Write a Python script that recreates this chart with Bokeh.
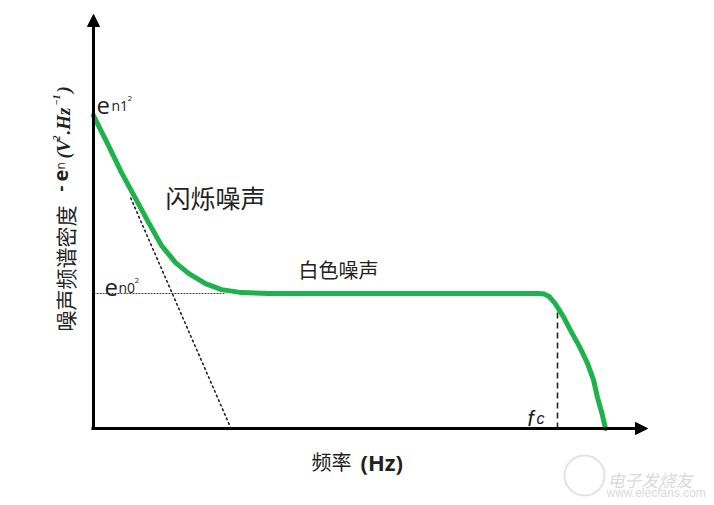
from bokeh.plotting import figure
from bokeh.models import Range1d, Arrow, NormalHead
from bokeh.core.properties import value
from bokeh.embed import file_html
from bokeh.resources import INLINE
import math

# ---- data (arbitrary diagram units: frequency / density) ----
curve_f = [0, 3.0, 5.6, 8.4, 11.0, 13.6, 16.4, 19.0, 22.4, 25.6, 29.6, 35,
           60, 89.0, 90.2, 91.2, 92.4, 94.0, 95.4, 97.2, 98.8, 100.0, 100.8, 101.7, 102.4]
curve_d = [104.3, 94.3, 85.3, 76.7, 68.7, 61.0, 55.3, 51.7, 48.3, 46.3, 45.3, 45,
           45, 45, 44.8, 43.9, 41.5, 37.2, 32.7, 27.3, 21.7, 16.2, 10.3, 5.0, 0]
tangent_f = [7.4, 27.5]
tangent_d = [77.0, 0.0]
white_level = 45.0
white_end_f = 26.4
fc_f = 92.8
fc_d = 40.3
axis_x_end = 110.8
axis_y_end = 138.0

W, H = 710, 500
X0, Y0 = 93, 428  # page pixel of the origin


def fx(px):
    return (px - X0) / 5


def fy(py):
    return (Y0 - py) / 3


p = figure(width=W, height=H, output_backend="svg", toolbar_location=None,
           x_range=Range1d(fx(0), fx(W)), y_range=Range1d(fy(H), fy(0)),
           min_border=0)
p.axis.visible = False
p.grid.visible = False
p.outline_line_color = None
p.background_fill_color = "white"

# axes with arrows
p.add_layout(Arrow(end=NormalHead(size=12, fill_color="black", line_color="black", line_width=1),
                   x_start=-0.4, y_start=0, x_end=axis_x_end, y_end=0,
                   line_width=3, line_color="black"))
p.add_layout(Arrow(end=NormalHead(size=12, fill_color="black", line_color="black", line_width=1),
                   x_start=0, y_start=-0.4, x_end=0, y_end=axis_y_end,
                   line_width=3, line_color="black"))

# guide lines
p.line(tangent_f, tangent_d, line_color="#1a1a1a", line_width=1.5, line_dash="3 2")
p.line([0, white_end_f], [white_level, white_level], line_color="#444444", line_width=1, line_dash="2 1")
p.line([fc_f, fc_f], [0, fc_d], line_color="#222222", line_width=1.6, line_dash="6 4")

# noise curve
p.line(curve_f, curve_d, line_color="#1db24b", line_width=5, line_join="round", line_cap="round")

cjk = value("Noto Sans CJK SC")
sans = value("Open Sans")
serif = value("Liberation Serif")


def txt(x, y, s, size, style="normal", font=cjk, align="left", baseline="alphabetic",
        angle=0.0, color="#222222"):
    p.text(x=[x], y=[y], text=[s], text_font=font, text_font_size=f"{size}px",
           text_font_style=style, text_align=align, text_baseline=baseline,
           angle=angle, text_color=color)


# e_n1^2
txt(fx(96), fy(105), "e", 24, font=sans)
txt(fx(111), fy(105), "n1", 14, font=sans)
txt(fx(127), fy(98), "2", 8, font=sans)
# e_n0^2
txt(fx(104), fy(287), "e", 24, font=sans)
txt(fx(118), fy(287), "n0", 14, font=sans)
txt(fx(134), fy(280), "2", 8, font=sans)

txt(fx(165), fy(196), "闪烁噪声", 25, baseline="middle")
txt(fx(298), fy(269), "白色噪声", 20, baseline="middle")

# f_c
txt(fx(527), fy(418), "f", 22, style="italic", font=value("Liberation Sans"))
txt(fx(536), fy(418), "c", 16, style="italic", font=value("Liberation Sans"))

# x label
txt(fx(311), fy(461), "频率", 20, baseline="middle")
txt(fx(360), fy(461), "(Hz)", 22, style="bold", baseline="middle", font=sans)

# y label (rotated, reading upward)
a = math.pi / 2
txt(fx(64), fy(331), "噪声频谱密度", 21, angle=a)
txt(fx(60), fy(191), "-", 18, style="bold", angle=a, font=sans)
txt(fx(60), fy(181), "e", 20, style="bold", angle=a, font=sans)
txt(fx(60), fy(169), "n", 12, angle=a, font=sans)
txt(fx(63), fy(158), "(V", 19, style="bold italic", angle=a, font=serif)
txt(fx(56), fy(140), "2", 10, style="bold italic", angle=a, font=serif)
txt(fx(63), fy(134), ".Hz", 19, style="bold italic", angle=a, font=serif)
txt(fx(56), fy(105), "−1", 10, style="bold italic", angle=a, font=serif)
txt(fx(63), fy(92), ")", 19, style="bold italic", angle=a, font=serif)

# watermark
p.scatter(x=[fx(584)], y=[fy(475)], size=40, marker="circle",
          fill_color=None, line_color="#e2e2e2", line_width=2)
txt(fx(607), fy(479), "电子发烧友", 17, color="#dadada", style="italic")
txt(fx(606), fy(492), "www.elecfans.com", 12, color="#dadada", font=value("Liberation Sans"))

open("out.html", "w").write(file_html(p, INLINE))
